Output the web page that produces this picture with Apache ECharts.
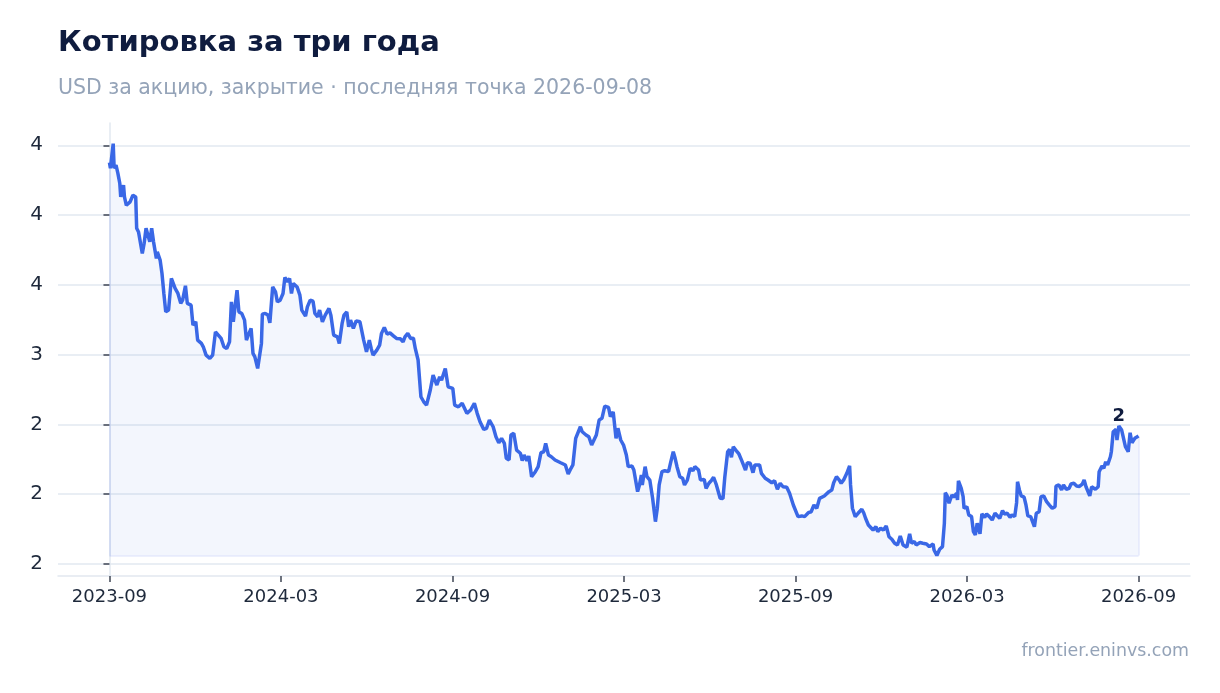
<!DOCTYPE html>
<html>
<head>
<meta charset="utf-8">
<title>Котировка за три года</title>
<script src="https://cdn.jsdelivr.net/npm/echarts@6.0.0/dist/echarts.min.js"></script>
<style>
  html, body { margin: 0; padding: 0; background: #ffffff; }
  #chart { width: 1220px; height: 693px; }
</style>
</head>
<body>
<div id="chart"></div>
<script>
// days since 2023-09-08 and closing price, USD
var startDate = '2023-09-08';
var dayOffset = [
  0, 1, 4, 5, 7, 9, 11, 12, 15, 16, 18, 22, 25, 28, 29, 31, 35, 37, 39, 41, 43, 45, 47, 50, 51, 54, 56, 58, 60, 63,
  66, 68, 70, 73, 76, 78, 81, 83, 87, 89, 92, 94, 98, 100, 103, 107, 110, 113, 116, 119, 122, 125, 128, 130, 132, 134, 136, 138, 141, 144,
  146, 148, 151, 153, 155, 158, 160, 162, 163, 166, 169, 171, 174, 177, 179, 182, 185, 187, 190, 192, 194, 196, 200, 203, 205, 209, 211, 214, 217, 219,
  222, 224, 227, 230, 234, 236, 239, 243, 245, 248, 250, 253, 255, 257, 260, 263, 267, 269, 271, 274, 277, 279, 281, 285, 288, 290, 293, 296, 299, 303,
  306, 310, 313, 315, 318, 321, 324, 326, 329, 332, 335, 338, 342, 345, 349, 352, 354, 358,
  361, 366, 368, 372, 376, 381, 385, 389, 392, 395, 399, 402, 405, 409, 412, 415, 418, 421, 423, 426, 428, 431, 434, 438, 440, 442, 445, 447, 450, 454,
  457, 460, 463, 465, 468, 471, 475, 477, 481, 486, 489, 492, 494, 497, 502, 504, 508, 511, 514, 519, 522, 525, 528, 532, 534, 537, 540, 542, 545, 548,
  551, 553, 557, 559, 563, 565, 567, 568, 571, 573, 576, 579, 582, 584, 586, 589, 592, 596, 598, 601, 603, 605, 608, 611, 613, 616, 619, 622, 624, 628,
  630, 634, 636, 639, 642, 644, 647, 651, 654, 656, 659, 661, 663, 665, 669, 671, 674, 676, 678, 680, 683, 686, 688, 690, 693, 695, 699, 702, 706, 709,
  712, 715, 718, 722,
  725, 729, 731, 734, 738, 741, 745, 748, 751, 754, 757, 759, 762, 764, 767, 770, 772, 775, 778, 780, 783, 786, 789, 790, 792, 795, 798, 802, 804, 806,
  809, 811, 814, 817, 819, 822, 825, 828, 831, 834, 837, 840, 843, 846, 848, 850, 853, 855, 858, 860, 864, 867, 871, 874, 878, 879, 882, 885, 888, 890,
  891, 893, 895, 898, 900, 903, 904, 905, 908, 910, 911, 914, 916, 919, 921, 923, 925, 928, 930, 933, 935, 938, 941, 944, 946, 949, 952, 954, 957, 960,
  962, 965, 967, 968, 970, 972, 975, 977, 979, 982, 984, 986, 988, 991, 993, 996, 999, 1002, 1005, 1008, 1009, 1012, 1015, 1017, 1020, 1023, 1025, 1028, 1031, 1034,
  1037, 1039, 1041, 1043, 1045, 1047, 1049, 1051, 1054, 1055, 1058, 1060, 1062, 1064, 1067, 1068, 1070, 1073, 1074, 1076, 1079, 1081, 1083, 1086, 1088, 1090, 1093, 1097
];
var closePrice = [
  4.376, 4.335, 4.512, 4.335, 4.357, 4.299, 4.228, 4.130, 4.214, 4.130, 4.070, 4.094, 4.142, 4.130, 3.906, 3.879, 3.725, 3.798, 3.906, 3.856, 3.808, 3.906, 3.808, 3.689, 3.736, 3.677, 3.581, 3.438, 3.306, 3.319,
  3.546, 3.557, 3.474, 3.438, 3.367, 3.390, 3.493, 3.367, 3.354, 3.211, 3.235, 3.104, 3.080, 3.056, 2.996, 2.973, 2.996, 3.163, 3.140, 3.116, 3.056, 3.044, 3.092, 3.378, 3.235, 3.223, 3.462, 3.306, 3.295, 3.247,
  3.104, 3.140, 3.188, 3.009, 2.984, 2.901, 2.913, 3.080, 3.290, 3.295, 3.283, 3.228, 3.485, 3.450, 3.378, 3.390, 3.438, 3.553, 3.521, 3.546, 3.438, 3.510, 3.485, 3.426, 3.319, 3.276, 3.342, 3.390, 3.383, 3.295,
  3.271, 3.319, 3.235, 3.283, 3.331, 3.283, 3.140, 3.127, 3.080, 3.223, 3.283, 3.306, 3.199, 3.247, 3.188, 3.242, 3.235, 3.232, 3.104, 3.020, 3.104, 3.044, 2.996, 3.032, 3.068, 3.152, 3.195, 3.147, 3.156, 3.132,
  3.116, 3.113, 3.092, 3.127, 3.152, 3.116, 3.118, 3.044, 2.961, 2.698, 2.662, 2.638, 2.746, 2.853, 2.782, 2.841, 2.817, 2.901,
  2.769, 2.758, 2.638, 2.626, 2.651, 2.579, 2.603, 2.651, 2.579, 2.519, 2.464, 2.472, 2.531, 2.483, 2.411, 2.368, 2.400, 2.364, 2.257, 2.245, 2.424, 2.436, 2.316, 2.293, 2.240, 2.280, 2.240, 2.273, 2.125, 2.161,
  2.197, 2.297, 2.304, 2.364, 2.280, 2.268, 2.245, 2.257, 2.225, 2.209, 2.144, 2.185, 2.209, 2.400, 2.483, 2.447, 2.424, 2.411, 2.352, 2.424, 2.531, 2.543, 2.631, 2.622, 2.555, 2.590, 2.400, 2.472, 2.388, 2.352,
  2.280, 2.197, 2.202, 2.173, 2.018, 2.066, 2.137, 2.066, 2.197, 2.125, 2.101, 1.970, 1.803, 1.899, 2.066, 2.161, 2.168, 2.161, 2.221, 2.304, 2.257, 2.197, 2.125, 2.114, 2.066, 2.101, 2.185, 2.168, 2.197, 2.173,
  2.101, 2.106, 2.042, 2.078, 2.101, 2.121, 2.066, 1.970, 1.968, 2.125, 2.304, 2.321, 2.264, 2.340, 2.304, 2.288, 2.240, 2.238, 2.173, 2.225, 2.221, 2.154, 2.209, 2.197, 2.209, 2.149, 2.114, 2.101, 2.082, 2.096,
  2.035, 2.078, 2.053, 2.050,
  2.006, 1.922, 1.920, 1.839, 1.844, 1.839, 1.867, 1.874, 1.922, 1.899, 1.970, 1.958, 1.987, 1.982, 2.018, 2.030, 2.082, 2.125, 2.101, 2.078, 2.106, 2.149, 2.202, 2.066, 1.899, 1.839, 1.863, 1.892, 1.867, 1.827,
  1.779, 1.791, 1.743, 1.767, 1.731, 1.756, 1.743, 1.772, 1.695, 1.677, 1.648, 1.636, 1.700, 1.636, 1.629, 1.620, 1.715, 1.648, 1.660, 1.636, 1.653, 1.648, 1.643, 1.624, 1.643, 1.600, 1.561, 1.605, 1.624, 1.791,
  2.010, 1.987, 1.935, 1.994, 1.978, 2.006, 1.958, 2.096, 2.042, 1.982, 1.899, 1.910, 1.851, 1.839, 1.731, 1.708, 1.791, 1.715, 1.858, 1.834, 1.858, 1.839, 1.815, 1.863, 1.858, 1.827, 1.882, 1.858, 1.863, 1.834,
  1.851, 1.839, 1.939, 2.089, 2.030, 1.987, 1.978, 1.922, 1.844, 1.839, 1.803, 1.767, 1.863, 1.874, 1.982, 1.987, 1.946, 1.922, 1.899, 1.910, 2.058, 2.066, 2.030, 2.066, 2.035, 2.042, 2.073, 2.078, 2.058, 2.055,
  2.071, 2.101, 2.053, 2.066, 1.987, 2.053, 2.042, 2.035, 2.053, 2.161, 2.202, 2.185, 2.232, 2.209, 2.268, 2.304, 2.447, 2.464, 2.388, 2.488, 2.459, 2.447, 2.340, 2.304, 2.440, 2.368, 2.400, 2.416
];
var yTicks = [1.5, 2, 2.5, 3, 3.5, 4, 4.5];
var xTickLabels = ['2023-09', '2024-03', '2024-09', '2025-03', '2025-09', '2026-03', '2026-09'];

var FONT = 'DejaVu Sans';
var LINE = '#3a68e6';

// labels are printed with zero decimals, halves go to the even number
function roundEven(v) {
  var f = Math.floor(v);
  if (Math.abs(v - f - 0.5) < 1e-9) return f % 2 === 0 ? f : f + 1;
  return Math.round(v);
}

var points = dayOffset.map(function (d, i) { return [d, closePrice[i]]; });

var span = dayOffset[dayOffset.length - 1] - dayOffset[0];
var vMin = Math.min.apply(null, closePrice);
var vMax = Math.max.apply(null, closePrice);
var vPad = (vMax - vMin) * 0.05;
var xTickPos = xTickLabels.map(function (l, i) { return dayOffset[0] + span * i / (xTickLabels.length - 1); });

// highest close over the last year
var lastDay = dayOffset[dayOffset.length - 1];
var peak = null;
points.forEach(function (p) {
  if (p[0] >= lastDay - 365 && (!peak || p[1] > peak[1])) peak = p;
});

var first = points[0], last = points[points.length - 1];

var myChart = echarts.init(document.getElementById('chart'));
myChart.setOption({
  animation: false,
  backgroundColor: '#ffffff',
  textStyle: { fontFamily: FONT },
  title: [{
    text: 'Котировка за три года',
    left: 58, top: 29, padding: 0,
    textStyle: { fontFamily: FONT, fontSize: 29, fontWeight: 'bold', color: '#0f1c3f' }
  }, {
    text: 'USD за акцию, закрытие · последняя точка 2026-09-08',
    left: 58, top: 78, padding: 0,
    textStyle: { fontFamily: FONT, fontSize: 20.5, fontWeight: 'normal', color: '#94a3b8' }
  }, {
    text: 'frontier.eninvs.com',
    right: 31, top: 643, padding: 0,
    textStyle: { fontFamily: FONT, fontSize: 17.4, fontWeight: 'normal', color: '#94a3b8' }
  }],
  grid: { left: 58, right: 30, top: 123, bottom: 117 },
  xAxis: {
    type: 'value',
    min: dayOffset[0] - span * 0.05,
    max: lastDay + span * 0.05,
    axisLine: { show: true, lineStyle: { color: '#e2e8f0', width: 1.5 } },
    axisTick: { show: true, length: 6, customValues: xTickPos, lineStyle: { color: '#3f4654', width: 1.5 } },
    axisLabel: {
      customValues: xTickPos,
      margin: 12,
      color: '#1e293b', fontSize: 18, fontFamily: FONT,
      formatter: function (v) {
        var i = xTickPos.indexOf(v);
        return i >= 0 ? xTickLabels[i] : '';
      }
    },
    splitLine: { show: false }
  },
  yAxis: {
    type: 'value',
    min: vMin - vPad,
    max: vMax + vPad,
    axisLine: { show: true, lineStyle: { color: '#e2e8f0', width: 1.5 } },
    axisTick: { show: true, length: 6, customValues: yTicks, lineStyle: { color: '#3f4654', width: 1.5 } },
    axisLabel: {
      customValues: yTicks,
      margin: 15,
      color: '#1e293b', fontSize: 20, fontFamily: FONT,
      formatter: function (v) { return String(roundEven(v)); }
    },
    splitLine: { show: true, lineStyle: { color: '#e2e8f0', width: 1.5 } }
  },
  series: [{
    type: 'line',
    data: points,
    symbol: 'none',
    lineStyle: { color: LINE, width: 3.5 },
    areaStyle: { color: 'rgba(58,104,230,0.09)', origin: vMin },
    markLine: {
      silent: true,
      symbol: 'none',
      label: { show: false },
      lineStyle: { color: 'rgba(58,104,230,0.13)', width: 1.5, type: 'solid' },
      data: [
        [{ coord: [first[0], vMin] }, { coord: [last[0], vMin] }],
        [{ coord: [first[0], vMin] }, { coord: [first[0], first[1]] }],
        [{ coord: [last[0], vMin] }, { coord: [last[0], last[1]] }]
      ]
    },
    markPoint: {
      symbol: 'circle',
      symbolSize: 0,
      silent: true,
      data: [{ coord: peak, value: peak[1] }],
      label: {
        show: true,
        position: 'top',
        distance: 1,
        fontFamily: FONT, fontSize: 18, fontWeight: 'bold', color: '#0f1c3f',
        formatter: function (p) { return String(roundEven(p.value)); }
      }
    }
  }]
});
</script>
</body>
</html>
